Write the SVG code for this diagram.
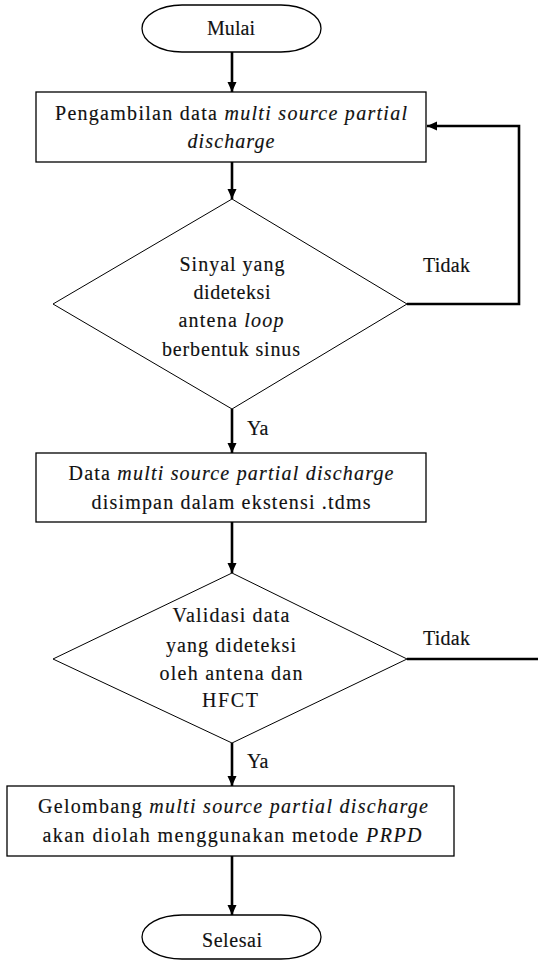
<svg xmlns="http://www.w3.org/2000/svg" width="538" height="960" viewBox="0 0 538 960">
<style>
  .bg{fill:#ffffff}
  .shape{fill:#ffffff;stroke:#000;stroke-width:1.3}
  .dia{fill:#ffffff;stroke:#000;stroke-width:1}
  .conn{fill:none;stroke:#000;stroke-width:2.6}
  text{font-family:"Liberation Serif","Times New Roman",serif;font-size:20px;fill:#111;stroke:#111;stroke-width:0.15;text-anchor:middle}
  .it{font-style:italic}
  .lbl{text-anchor:start}
</style>
<defs>
  <marker id="ah" markerUnits="userSpaceOnUse" markerWidth="10" markerHeight="10" refX="10" refY="4.5" orient="auto">
    <path d="M0,0 L10,4.5 L0,9 z" fill="#000"/>
  </marker>
</defs>
<rect class="bg" x="0" y="0" width="538" height="960"/>

<g id="connectors">
  <line class="conn" x1="232" y1="52" x2="232" y2="92" marker-end="url(#ah)"/>
  <line class="conn" x1="232" y1="162" x2="232" y2="199" marker-end="url(#ah)"/>
  <line class="conn" x1="232" y1="409" x2="232" y2="453" marker-end="url(#ah)"/>
  <line class="conn" x1="232" y1="522" x2="232" y2="573" marker-end="url(#ah)"/>
  <line class="conn" x1="232" y1="743" x2="232" y2="786" marker-end="url(#ah)"/>
  <line class="conn" x1="232" y1="856" x2="232" y2="915" marker-end="url(#ah)"/>
  <polyline class="conn" points="407,304 519,304 519,126 427,126" marker-end="url(#ah)"/>
  <line class="conn" x1="407" y1="659" x2="538" y2="659"/>
  <text class="lbl" x="423" y="272" textLength="47">Tidak</text>
  <text class="lbl" x="247" y="435">Ya</text>
  <text class="lbl" x="423" y="645" textLength="47">Tidak</text>
  <text class="lbl" x="247" y="768">Ya</text>
</g>

<g id="start">
  <rect class="shape" x="142" y="5" width="179" height="47" rx="40" ry="23.5"/>
  <text x="231" y="35" textLength="48">Mulai</text>
</g>

<g id="ambil">
  <rect class="shape" x="36" y="92" width="390" height="70"/>
  <text x="231" y="120" textLength="352">Pengambilan  data <tspan class="it">multi source partial</tspan></text>
  <text x="231" y="148" class="it" textLength="87">discharge</text>
</g>

<g id="cek-sinyal">
  <polygon class="dia" points="232,199 407,304 232,409 53,304"/>
  <text x="232" y="271" textLength="105">Sinyal yang</text>
  <text x="232" y="299" textLength="77">dideteksi</text>
  <text x="231" y="327" textLength="105">antena <tspan class="it">loop</tspan></text>
  <text x="231" y="356" textLength="138">berbentuk sinus</text>
</g>

<g id="simpan">
  <rect class="shape" x="36" y="453" width="390" height="69"/>
  <text x="231" y="480" textLength="325">Data <tspan class="it">multi source partial discharge</tspan></text>
  <text x="231" y="509" textLength="279">disimpan dalam ekstensi .tdms</text>
</g>

<g id="validasi">
  <polygon class="dia" points="232,573 407,659 232,743 53,659"/>
  <text x="231" y="622" textLength="117">Validasi data</text>
  <text x="231" y="652" textLength="130">yang dideteksi</text>
  <text x="231" y="680" textLength="143">oleh antena dan</text>
  <text x="230" y="707" textLength="56">HFCT</text>
</g>

<g id="olah">
  <rect class="shape" x="7" y="786" width="447" height="70"/>
  <text x="233" y="813" textLength="390">Gelombang <tspan class="it">multi source partial discharge</tspan></text>
  <text x="232" y="842" textLength="379">akan diolah menggunakan metode <tspan class="it">PRPD</tspan></text>
</g>

<g id="end">
  <rect class="shape" x="142" y="915" width="179" height="44" rx="40" ry="22"/>
  <text x="232" y="947" textLength="60">Selesai</text>
</g>
</svg>
